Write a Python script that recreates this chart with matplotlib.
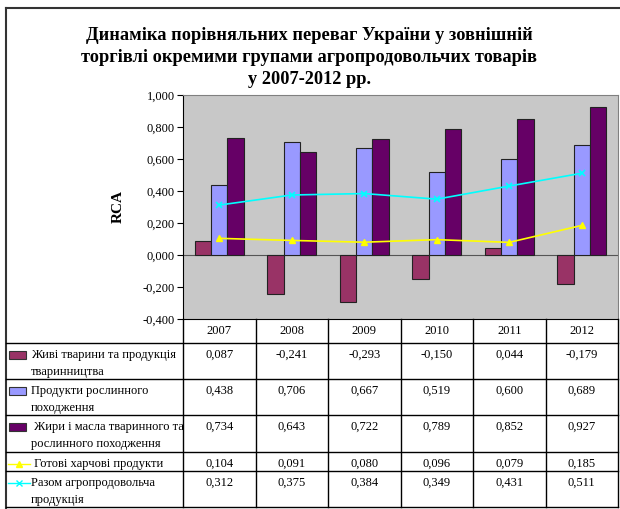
import numpy as np
import matplotlib.pyplot as plt
from matplotlib.patches import Rectangle
from matplotlib.lines import Line2D

plt.rcParams['font.family'] = ['Liberation Serif', 'DejaVu Serif']

# ---------------------------------------------------------------------------
# data (RCA by product group)
# ---------------------------------------------------------------------------
years = ['2007', '2008', '2009', '2010', '2011', '2012']
live_animals = [0.087, -0.241, -0.293, -0.150, 0.044, -0.179]
plant_products = [0.438, 0.706, 0.667, 0.519, 0.600, 0.689]
fats_oils = [0.734, 0.643, 0.722, 0.789, 0.852, 0.927]
ready_food = [0.104, 0.091, 0.080, 0.096, 0.079, 0.185]
agri_total = [0.312, 0.375, 0.384, 0.349, 0.431, 0.511]

labels = [['Живі тварини та продукція', 'тваринництва'],
          ['Продукти рослинного', 'походження'],
          [' Жири і масла тваринного та', 'рослинного походження'],
          [' Готові харчові продукти'],
          ['Разом агропродовольча', 'продукція']]

title_lines = ['Динаміка порівняльних переваг України у зовнішній',
               'торгівлі окремими групами агропродовольчих товарів',
               'у 2007-2012 рр.']

bar_colors = ['#993366', '#9999FF', '#660066']
line_colors = ['#FFFF00', '#00FFFF']


def fmt(v):
    return ('%.3f' % v).replace('.', ',')


# ---------------------------------------------------------------------------
# figure in pixel terms
# ---------------------------------------------------------------------------
W, H = 620, 509
fig = plt.figure(figsize=(W / 100, H / 100), dpi=100)

p_left, p_right, p_top, p_bot = 183, 618, 95, 319
ax = fig.add_axes([p_left / W, 1 - p_bot / H, (p_right - p_left) / W, (p_bot - p_top) / H])
ax.set_facecolor('#C8C8C8')

x = np.arange(len(years))
w = 0.227
for k, vals in enumerate([live_animals, plant_products, fats_oils]):
    ax.bar(x + (k - 1) * w, vals, w, color=bar_colors[k], edgecolor='#222222', linewidth=0.8, zorder=2)

ax.axhline(0, color='#555555', lw=0.8, zorder=1)
ax.plot(x, ready_food, color=line_colors[0], marker='^', ms=5, lw=1.2, zorder=3)
ax.plot(x, agri_total, color=line_colors[1], marker='x', ms=5, mew=1.2, lw=1.2, zorder=3)

ax.set_xlim(-0.5, len(years) - 0.5)
ax.set_ylim(-0.4, 1.0)
yt = np.arange(-0.4, 1.001, 0.2)
ax.set_yticks(yt)
ax.set_yticklabels([fmt(round(v, 3) + 0.0) for v in yt], fontsize=9)
ax.set_xticks([])
ax.tick_params(axis='y', direction='out', length=4, width=0.8, pad=2)
ax.spines['left'].set_color('black')
ax.spines['bottom'].set_color('black')
ax.spines['top'].set_color('#808080')
ax.spines['right'].set_color('#808080')

for i, line in enumerate(title_lines):
    fig.text(309 / W, 1 - (35 + 22 * i) / H, line, ha='center', va='center',
             fontsize=13.2, fontweight='bold')
fig.text(118 / W, 1 - 207 / H, 'RCA', rotation=90, ha='center', va='center',
         fontsize=11, fontweight='bold')

# ---------------------------------------------------------------------------
# data table under the chart (overlay axes in pixel coords)
# ---------------------------------------------------------------------------
ov = fig.add_axes([0, 0, 1, 1], facecolor='none')
ov.set_xlim(0, W)
ov.set_ylim(H, 0)
ov.axis('off')

# outer frame
ov.plot([6, 6], [8, H], color='#333333', lw=1.5)
ov.plot([6, W], [8, 8], color='#333333', lw=1.5)

col_w = (p_right - p_left) / len(years)
row_edges = [343, 379, 415, 452, 471, 507]
for i in range(len(years) + 1):
    ov.plot([p_left + i * col_w] * 2, [p_bot, row_edges[-1]], color='black', lw=1)
for ry in row_edges:
    ov.plot([6, p_right], [ry, ry], color='black', lw=1)

for i, yr in enumerate(years):
    ov.text(p_left + (i + 0.5) * col_w, 331, yr, ha='center', va='center', fontsize=9)

series = [live_animals, plant_products, fats_oils, ready_food, agri_total]
for r, vals in enumerate(series):
    y0 = row_edges[r] + 12
    for i, v in enumerate(vals):
        ov.text(p_left + (i + 0.5) * col_w, y0, fmt(v), ha='center', va='center', fontsize=9)
    for j, line in enumerate(labels[r]):
        ov.text(31, y0 + 17 * j, line, ha='left', va='center', fontsize=9)
    if r < 3:
        ov.add_patch(Rectangle((9, y0 - 4), 17, 8, facecolor=bar_colors[r], edgecolor='#333333', lw=0.8))
    else:
        mk = '^' if r == 3 else 'x'
        ov.add_line(Line2D([8, 30], [y0, y0], color=line_colors[r - 3], lw=1))
        ov.plot([19], [y0], marker=mk, color=line_colors[r - 3], ms=4)

fig.savefig('out.png', dpi=100)
